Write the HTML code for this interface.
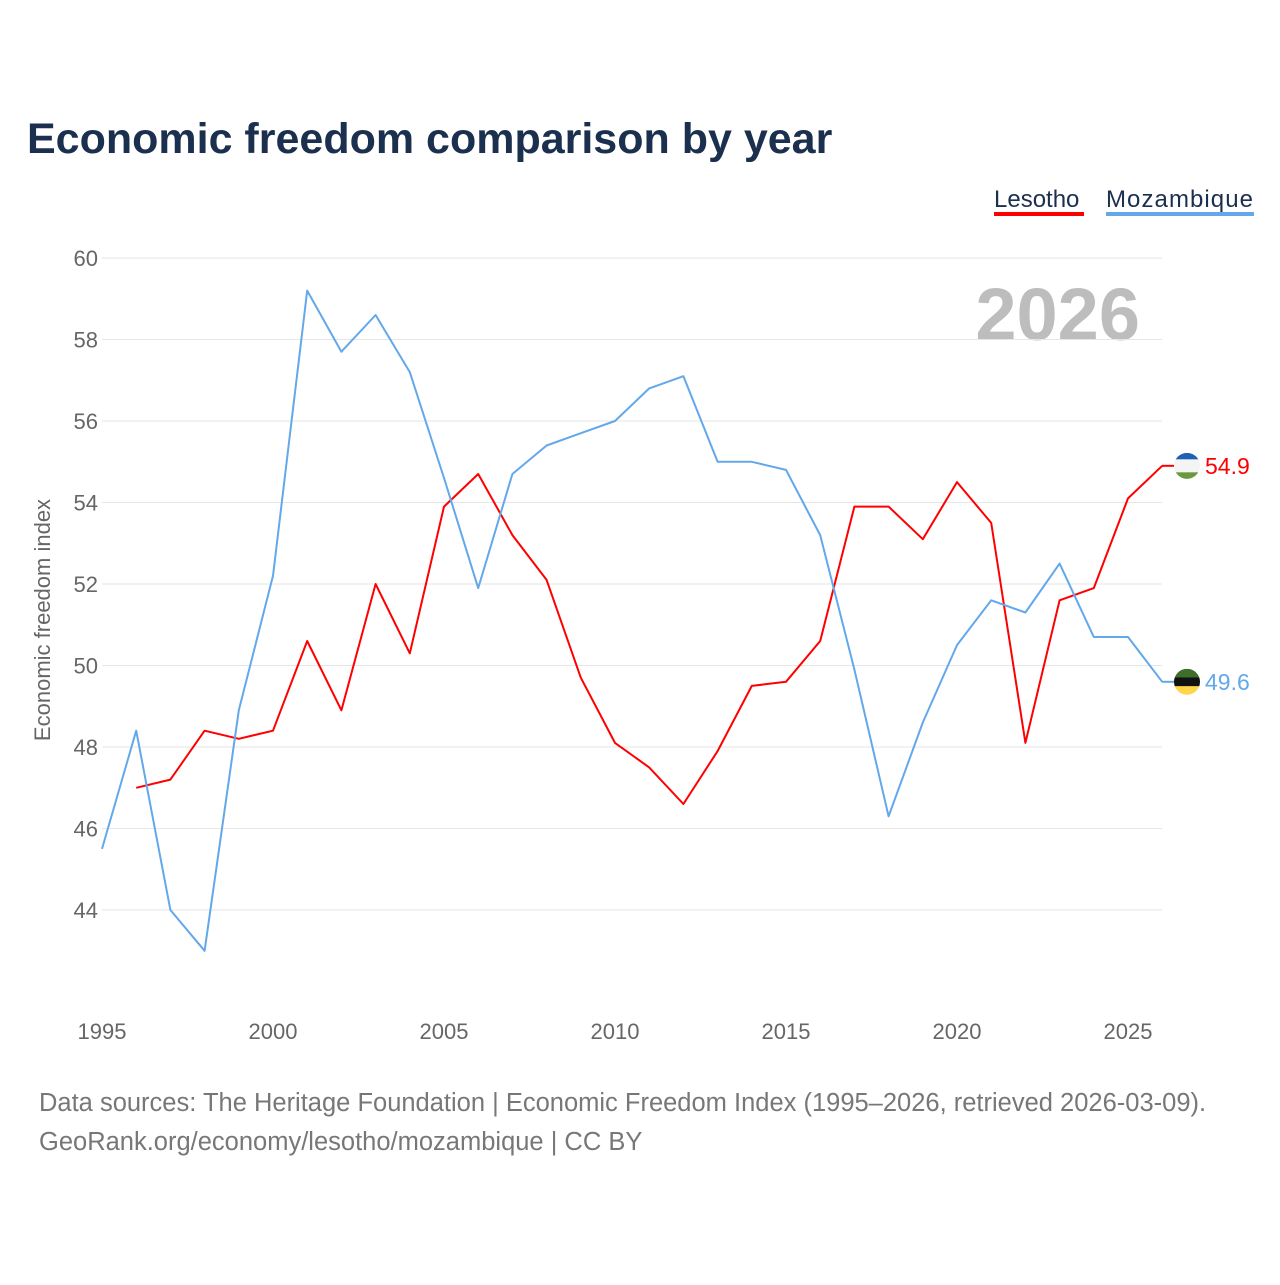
<!DOCTYPE html>
<html><head><meta charset="utf-8"><style>
body{margin:0;background:#fff;font-family:"Liberation Sans",sans-serif}
</style></head><body>
<svg id="chart" width="1280" height="1280" xmlns="http://www.w3.org/2000/svg" font-family="Liberation Sans, sans-serif">
<defs>
<clipPath id="c1"><circle cx="1187" cy="465" r="13"/></clipPath>
<clipPath id="c2"><circle cx="1187" cy="681" r="13"/></clipPath>
</defs>
<rect width="1280" height="1280" fill="#fff"/>
<text x="27" y="153" font-size="43" font-weight="bold" fill="#1b2f4e">Economic freedom comparison by year</text>
<g><text x="994" y="207" font-size="24" fill="#1b2f4e">Lesotho</text><rect x="994" y="212" width="90" height="4" fill="#ff0000"/></g>
<g><text x="1106" y="207" font-size="24" fill="#1b2f4e" textLength="147">Mozambique</text><rect x="1106" y="212" width="148" height="4" fill="#62a8ea"/></g>
<text x="1140" y="340" font-size="74" font-weight="bold" fill="#bdbdbd" text-anchor="end">2026</text>
<g id="grid"></g><g id="axes"></g><g id="series"></g>
<text transform="translate(50,620) rotate(-90)" font-size="22" fill="#666" text-anchor="middle">Economic freedom index</text>
<text x="39" y="1111" font-size="25.5" fill="#777">Data sources: The Heritage Foundation | Economic Freedom Index (1995–2026, retrieved 2026-03-09).</text>
<text x="39" y="1150" font-size="25.5" fill="#777">GeoRank.org/economy/lesotho/mozambique | CC BY</text>
</svg>
<script>
const years=[1995,1996,1997,1998,1999,2000,2001,2002,2003,2004,2005,2006,2007,2008,2009,2010,2011,2012,2013,2014,2015,2016,2017,2018,2019,2020,2021,2022,2023,2024,2025,2026];
const mozambique=[45.5,48.4,44.0,43.0,48.9,52.2,59.2,57.7,58.6,57.2,54.6,51.9,54.7,55.4,55.7,56.0,56.8,57.1,55.0,55.0,54.8,53.2,49.9,46.3,48.6,50.5,51.6,51.3,52.5,50.7,50.7,49.6];
const lesotho=[null,47.0,47.2,48.4,48.2,48.4,50.6,48.9,52.0,50.3,53.9,54.7,53.2,52.1,49.7,48.1,47.5,46.6,47.9,49.5,49.6,50.6,53.9,53.9,53.1,54.5,53.5,48.1,51.6,51.9,54.1,54.9];
const yTicks=[44,46,48,50,52,54,56,58,60];
const xTicks=[1995,2000,2005,2010,2015,2020,2025];
const NS="http://www.w3.org/2000/svg";
const x=v=>102+(v-1995)*34.2;
const y=v=>258+(60-v)*40.75;
function mk(t,a,p){const e=document.createElementNS(NS,t);for(const k in a)e.setAttribute(k,a[k]);(typeof p==='string'?document.getElementById(p):p).appendChild(e);return e;}
yTicks.forEach(t=>{
 const l=mk('line',{x1:102,x2:1162,y1:y(t),y2:y(t),stroke:'#e6e6e6','stroke-width':1},'grid');
 
 
 const tx=mk('text',{x:98,y:y(t)+8,'font-size':22,fill:'#666','text-anchor':'end'},'axes');tx.textContent=t;
 
 
});
xTicks.forEach(t=>{
 const tx=mk('text',{x:x(t),y:1039,'font-size':22,fill:'#666','text-anchor':'middle'},'axes');tx.textContent=t;
 
 
});
function line(vals,col,name,stripes){
 let d='';vals.forEach((v,i)=>{if(v==null)return;d+=(d?'L':'M')+x(years[i]).toFixed(1)+','+y(v).toFixed(1);});
 const p=mk('path',{d:d,fill:'none',stroke:col,'stroke-width':2,'stroke-linejoin':'round'},'series');
 
 
 const last=vals[vals.length-1];
 const cy=y(last);
 mk('line',{x1:1162,x2:1174,y1:cy,y2:cy,stroke:col,'stroke-width':2},'series');
 const g=mk('g',{},'series');
 
 
 const clip=mk('clipPath',{id:'clip-'+name},g);
 mk('circle',{cx:1187,cy:cy,r:13},clip);
 const inner=mk('g',{'clip-path':'url(#clip-'+name+')'},g);
 stripes.forEach((s,i)=>mk('rect',{x:1174,y:cy-13+i*26/stripes.length,width:26,height:26/stripes.length+0.5,fill:s},inner));
 const t=mk('text',{x:1205,y:cy+8,'font-size':23,fill:col},'series');t.textContent=last.toFixed(1);
 
 
}
line(lesotho,'#ff0000','lesotho',['#1f5fb4','#f4f4f4','#f4f4f4','#6a9a3c']);
line(mozambique,'#62a8ea','mozambique',['#3f6e2a','#111','#ffd54a']);
</script>
</body></html>
